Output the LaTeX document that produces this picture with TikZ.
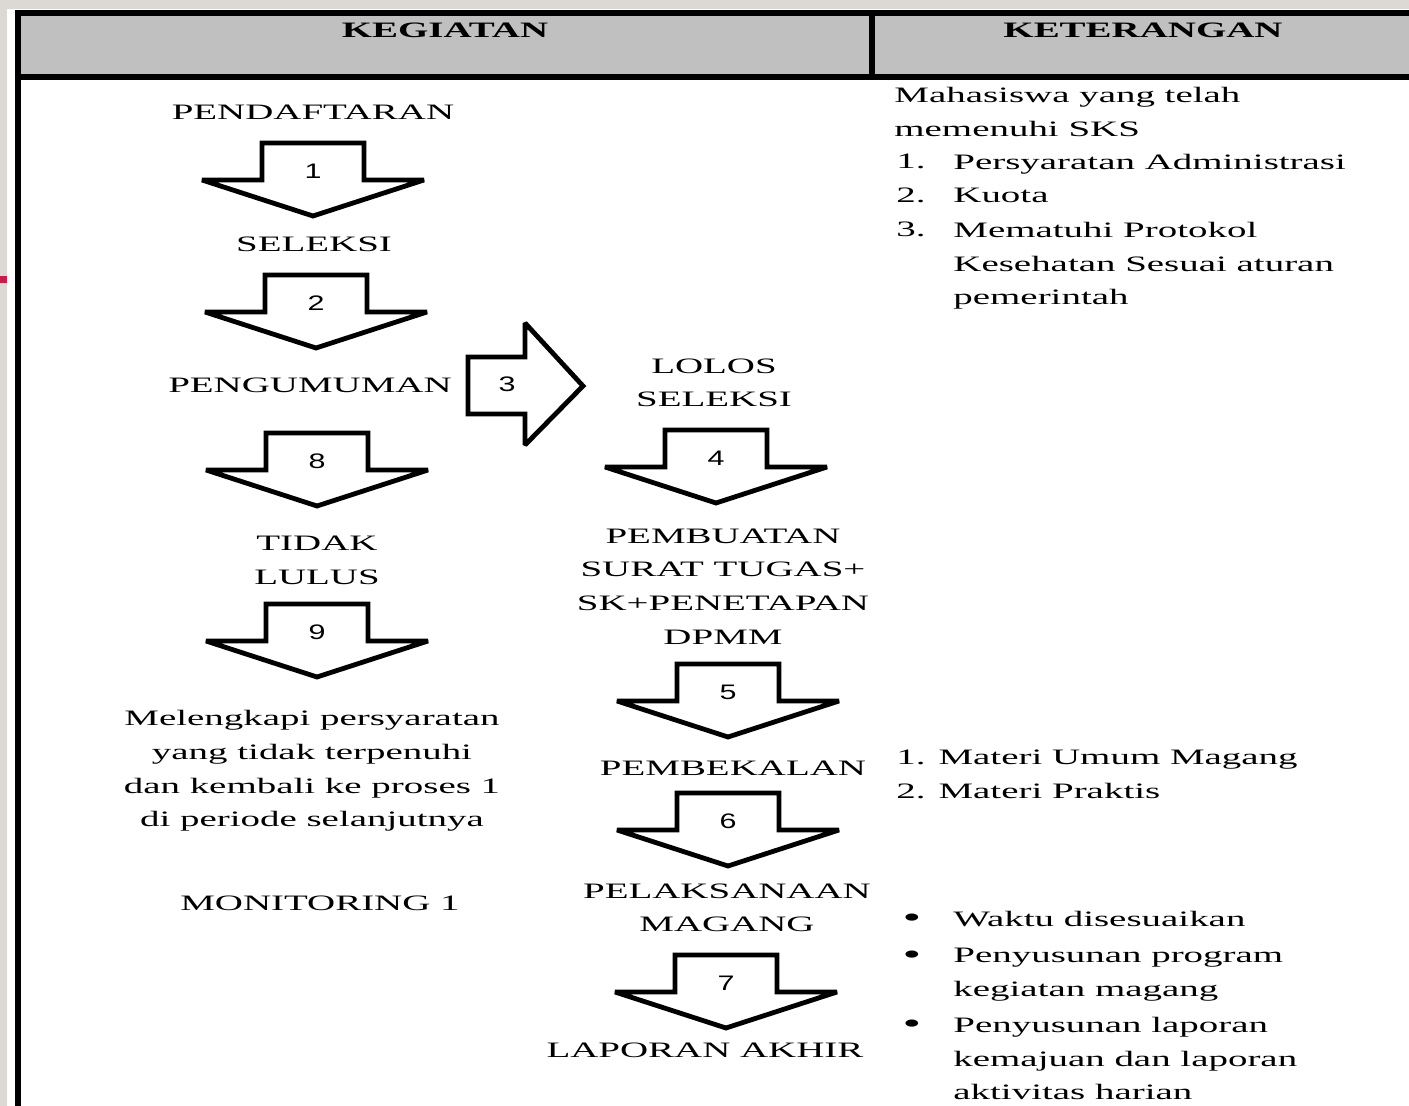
\documentclass[tikz,border=0pt]{standalone}
\usepackage{fontspec}
\setmainfont{Liberation Serif}[FakeStretch=1.77]
\newfontfamily\angkafont{Liberation Sans}[FakeStretch=1.45]
\definecolor{latar}{HTML}{DCD9D5}
\definecolor{kepala}{HTML}{C0C0C0}
\definecolor{tanda}{HTML}{C41E4A}

% down arrow: #1 name, #2 centre x, #3 top y, #4 number
\newcommand{\panahbawah}[4]{%
  \draw[panah] (#2-51,#3) -- ++(102,0) -- ++(0,37) -- ++(60,0) -- (#2,#3+73)
    -- (#2-111,#3+37) -- ++(60,0) -- cycle;
  \node[angka] (#1) at (#2,#3+28) {#4};}

\begin{document}
\begin{tikzpicture}[x=0.5pt, y=-0.5pt,
  teks/.style={inner sep=0pt, align=center, font=\fontsize{11}{16.8}\selectfont},
  ket/.style={inner sep=0pt, align=left, anchor=north west, font=\fontsize{11}{16.8}\selectfont},
  judul/.style={inner sep=0pt, font=\fontsize{11}{16.8}\selectfont\bfseries},
  angka/.style={inner sep=0pt, font=\fontsize{10.5}{12}\angkafont},
  titik/.style={inner sep=0pt, font=\fontsize{15}{16}\selectfont},
  panah/.style={line width=2.4pt, fill=white, miter limit=1.5}]
\useasboundingbox (0,0) rectangle (1409,1106);
\fill[latar] (0,0) rectangle (1409,1106);
\fill[white] (7,9) rectangle (1409,1106);
\fill[tanda] (0,276) rectangle (7,283);
% table frame
\fill[kepala] (18,13) rectangle (1409,77);
\draw[line width=3pt] (1412,13.5) -- (18,13.5) -- (18,1110);
\draw[line width=3pt] (18,77.5) -- (1412,77.5);
\draw[line width=3pt] (872,13) -- (872,78);
\node[judul] (kegiatan) at (445,30) {KEGIATAN};
\node[judul] (keterangan) at (1143,30) {KETERANGAN};
% left column
\node[teks] (daftar) at (313,112) {PENDAFTARAN};
\panahbawah{p1}{313}{143}{1}
\node[teks] (seleksi) at (314,244) {SELEKSI};
\panahbawah{p2}{316}{275}{2}
\node[teks] (umum) at (310,385) {PENGUMUMAN};
\panahbawah{p8}{317}{433}{8}
\node[teks] (tidak) at (317,560.5) {TIDAK\\LULUS};
\panahbawah{p9}{317}{604}{9}
\node[teks] (lengkap) at (312,771) {Melengkapi persyaratan\\yang tidak terpenuhi\\dan kembali ke proses 1\\di periode selanjutnya};
\node[teks] (monitor) at (320,903) {MONITORING 1};
% right arrow
\draw[panah] (468,357) -- (525,357) -- (525,323) -- (583,386) -- (525,445)
  -- (525,414) -- (468,414) -- cycle;
\node[angka] (p3) at (507,384) {3};
% middle column
\node[teks] (lolos) at (714,383) {LOLOS\\SELEKSI};
\panahbawah{p4}{716}{430}{4}
\node[teks] (buat) at (723,586.5) {PEMBUATAN\\SURAT TUGAS+\\SK+PENETAPAN\\DPMM};
\panahbawah{p5}{728}{664}{5}
\node[teks] (bekal) at (733,768) {PEMBEKALAN};
\panahbawah{p6}{728}{793}{6}
\node[teks] (laksana) at (727,908) {PELAKSANAAN\\MAGANG};
\panahbawah{p7}{726}{955}{7}
\node[teks] (lapor) at (705,1050) {LAPORAN AKHIR};
% keterangan
\node[ket] (syarat) at (894,87) {Mahasiswa yang telah\\memenuhi SKS};
\node[ket] (n1) at (896,154) {1.};
\node[ket] (i1) at (953,154) {Persyaratan Administrasi};
\node[ket] (n2) at (896,188) {2.};
\node[ket] (i2) at (953,188) {Kuota};
\node[ket] (n3) at (896,222) {3.};
\node[ket] (i3) at (953,222) {Mematuhi Protokol\\Kesehatan Sesuai aturan\\pemerintah};
\node[ket] (materi) at (896,750) {1. Materi Umum Magang\\2. Materi Praktis};
\node[titik] (t1) at (912,921) {•};
\node[ket] (b1) at (953,911) {Waktu disesuaikan};
\node[titik] (t2) at (912,958) {•};
\node[ket] (b2) at (953,948) {Penyusunan program\\kegiatan magang};
\node[titik] (t3) at (912,1027) {•};
\node[ket] (b3) at (953,1017) {Penyusunan laporan\\kemajuan dan laporan\\aktivitas harian};
\end{tikzpicture}
\end{document}
